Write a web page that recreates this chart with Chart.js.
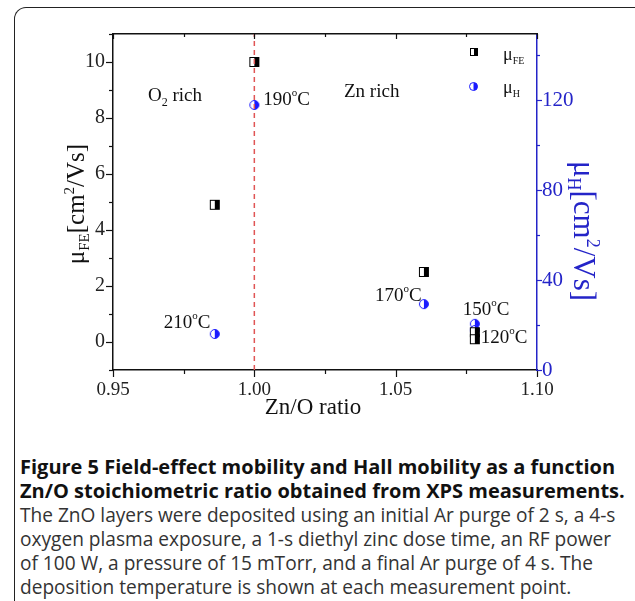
<!DOCTYPE html>
<html>
<head>
<meta charset="utf-8">
<script src="https://cdn.jsdelivr.net/npm/chart.js@4.4.1/dist/chart.umd.min.js"></script>
<style>
  body { margin: 0; background: #fff; width: 635px; height: 601px; overflow: hidden; position: relative; }
  #frame { position: absolute; left: 14px; top: 7px; width: 640px; height: 620px;
           border-left: 1.5px solid #222; border-top: 1.5px solid #222; border-right: 1.5px solid #222;
           border-top-left-radius: 12px; border-top-right-radius: 12px; }
  #wrap { position: absolute; left: 0; top: 0; width: 635px; height: 430px; }
  #caption { position: absolute; left: 20px; top: 455px; width: 615px; white-space: nowrap;
             font-family: "Open Sans", sans-serif; color: #333; font-size: 19.1px; line-height: 24px; }
  #caption b { color: #111; font-size: 20px; line-height: 24px; }
</style>
</head>
<body>
<div id="frame"></div>
<div id="wrap"><canvas id="myChart" width="635" height="430"></canvas></div>
<div id="caption"><b>Figure 5 Field-effect mobility and Hall mobility as a function<br>Zn/O stoichiometric ratio obtained from XPS measurements.</b><br>The ZnO layers were deposited using an initial Ar purge of 2 s, a 4-s<br>oxygen plasma exposure, a 1-s diethyl zinc dose time, an RF power<br>of 100 W, a pressure of 15 mTorr, and a final Ar purge of 4 s. The<br>deposition temperature is shown at each measurement point.</div>
<script>
// data
const ratio = [0.986, 1.000, 1.060, 1.078, 1.078];
const temps = ['210', '190', '170', '150', '120'];
const muFE = [4.9, 10.0, 2.5, 0.35, 0.1];
const muH = [16.0, 117.8, 29.3, 20.5, 17.8];
const xTicks = [0.95, 1.00, 1.05, 1.10];
const yTicks = [0, 2, 4, 6, 8, 10];
const y2Ticks = [0, 40, 80, 120];

const BLUE = '#2424c8';
const SERIF = '"Liberation Serif", "DejaVu Serif", serif';

function halfSquare(s) {
    var c = document.createElement('canvas');
    c.width = s + 2; c.height = s + 2;
    var g = c.getContext('2d');
    g.fillStyle = '#fff'; g.fillRect(1, 1, s, s);
    g.fillStyle = '#000'; g.fillRect(1 + s / 2, 1, s / 2, s);
    g.strokeStyle = '#000'; g.lineWidth = 1; g.strokeRect(1.5, 1.5, s - 1, s - 1);
    return c;
}
function halfCircle(s) {
    var c = document.createElement('canvas');
    c.width = s + 2; c.height = s + 2;
    var g = c.getContext('2d');
    var r = s / 2, cx = 1 + r, cy = 1 + r;
    g.fillStyle = '#fff'; g.beginPath(); g.arc(cx, cy, r - 0.5, 0, Math.PI * 2); g.fill();
    g.fillStyle = '#1a1aff'; g.beginPath(); g.arc(cx, cy, r - 0.5, -Math.PI / 2, Math.PI / 2); g.closePath(); g.fill();
    g.strokeStyle = '#1a1aff'; g.lineWidth = 1; g.beginPath(); g.arc(cx, cy, r - 0.5, 0, Math.PI * 2); g.stroke();
    return c;
}
const sq = halfSquare(10), ci = halfCircle(10);
const sqSmall = halfSquare(8), ciSmall = halfCircle(9);

// text with sub/superscripts: parts = [[text, size, dy]]
function richWidth(ctx, parts) {
    var w = 0;
    parts.forEach(p => { ctx.font = p[1] + 'px ' + SERIF; w += ctx.measureText(p[0]).width; });
    return w;
}
function drawRich(ctx, parts, x, y, color) {
    ctx.fillStyle = color || '#111';
    ctx.textBaseline = 'alphabetic';
    ctx.textAlign = 'left';
    parts.forEach(p => {
        ctx.font = p[1] + 'px ' + SERIF;
        ctx.fillText(p[0], x, y + (p[2] || 0));
        x += ctx.measureText(p[0]).width;
    });
}

const textPlugin = {
    id: 'texts',
    afterDraw(chart) {
        var ctx = chart.ctx, sx = chart.scales.x, sy = chart.scales.y, sy2 = chart.scales.y2;
        var a = chart.chartArea;
        ctx.save();
        // minor / major ticks
        ctx.strokeStyle = '#111'; ctx.lineWidth = 1.2;
        for (var v = 0.95; v <= 1.1001; v += 0.025) {
            var px = Math.round(sx.getPixelForValue(v)) + 0.5;
            var major = Math.abs(v * 20 - Math.round(v * 20)) < 1e-6;
            ctx.beginPath(); ctx.moveTo(px, a.bottom); ctx.lineTo(px, a.bottom + (major ? 7 : 4)); ctx.stroke();
            ctx.beginPath(); ctx.moveTo(px, a.top); ctx.lineTo(px, a.top + (major ? 5 : 3)); ctx.stroke();
        }
        for (var k = -1; k <= 11; k++) {
            var py = Math.round(sy.getPixelForValue(k)) + 0.5;
            ctx.beginPath(); ctx.moveTo(a.left, py); ctx.lineTo(a.left - (k % 2 === 0 ? 7 : 4), py); ctx.stroke();
        }
        ctx.strokeStyle = BLUE;
        for (var m = 0; m <= 140; m += 20) {
            var py2 = Math.round(sy2.getPixelForValue(m)) + 0.5;
            ctx.beginPath(); ctx.moveTo(a.right, py2); ctx.lineTo(a.right + (m % 40 === 0 ? 5 : 3), py2); ctx.stroke();
        }
        // axis titles
        var t1 = [['μ', 25], ['FE', 15, 5], ['[cm', 25], ['2', 15, -10], ['/Vs]', 25]];
        ctx.save(); ctx.translate(84, 204); ctx.rotate(-Math.PI / 2);
        drawRich(ctx, t1, -richWidth(ctx, t1) / 2, 0, '#111'); ctx.restore();
        var t2 = [['μ', 31], ['H', 18, 6], ['[cm', 31], ['2', 18, -13], ['/Vs]', 31]];
        ctx.save(); ctx.translate(574, 231); ctx.rotate(Math.PI / 2);
        drawRich(ctx, t2, -richWidth(ctx, t2) / 2, 0, BLUE); ctx.restore();
        var t3 = [['Zn/O ratio', 23]];
        drawRich(ctx, t3, (a.left + a.right) / 2 - richWidth(ctx, t3) / 2 - 12, 414, '#111');
        // region labels
        drawRich(ctx, [['O', 19], ['2', 12, 5], [' rich', 19]], 148, 101);
        drawRich(ctx, [['Zn rich', 19]], 344, 97);
        // temperature labels next to points
        var off = [[-51, -12], [9, -6], [-49, -9], [-12, -15], [6, -2]];
        var src = [muH, muH, muH, muH, muFE];
        for (var i = 0; i < ratio.length; i++) {
            var ax = sx.getPixelForValue(ratio[i]);
            var ay = (src[i] === muH ? sy2 : sy).getPixelForValue(src[i][i]);
            drawRich(ctx, [[temps[i], 19], ['o', 11, -9], ['C', 19]], ax + off[i][0], ay + off[i][1] + 6);
        }
        // legend
        ctx.drawImage(sqSmall, 469, 47);
        drawRich(ctx, [['μ', 18], ['FE', 10, 4]], 503, 60);
        ctx.drawImage(ciSmall, 468, 81);
        drawRich(ctx, [['μ', 18], ['H', 10, 4]], 503, 93);
        ctx.restore();
    }
};

var ctx = document.getElementById('myChart').getContext('2d');
var mychart = new Chart(ctx, {
    type: 'scatter',
    data: {
        datasets: [{
            label: 'ratio 1.00',
            data: [{x: 1.00, y: -1}, {x: 1.00, y: 11}],
            showLine: true,
            borderColor: '#e05555',
            borderWidth: 1.5,
            borderDash: [5, 4],
            pointRadius: 0,
            yAxisID: 'y'
        }, {
            label: 'μFE',
            data: ratio.map((r, i) => ({x: r, y: muFE[i]})),
            pointStyle: sq,
            yAxisID: 'y'
        }, {
            label: 'μH',
            data: ratio.map((r, i) => ({x: r, y: muH[i]})),
            pointStyle: ci,
            yAxisID: 'y2'
        }]
    },
    options: {
        responsive: false,
        animation: false,
        layout: { padding: { top: 34, left: 0, right: 0, bottom: 0 } },
        plugins: { legend: { display: false }, tooltip: { enabled: false } },
        scales: {
            x: {
                type: 'linear', min: 0.95, max: 1.10,
                afterBuildTicks: s => { s.ticks = xTicks.map(v => ({value: v})); },
                afterFit: s => { s.height = 60; },
                ticks: { color: '#222', font: { family: SERIF, size: 19 }, padding: 2,
                         callback: v => v.toFixed(2), maxRotation: 0 },
                grid: { drawOnChartArea: false, drawTicks: true, tickLength: 7, color: 'rgba(0,0,0,0)' },
                border: { color: '#111', width: 1.5 }
            },
            y: {
                position: 'left', min: -1, max: 11,
                afterBuildTicks: s => { s.ticks = yTicks.map(v => ({value: v})); },
                afterFit: s => { s.width = 113; },
                ticks: { color: '#222', font: { family: SERIF, size: 20 }, padding: 1 },
                grid: { drawOnChartArea: false, drawTicks: true, tickLength: 7, color: 'rgba(0,0,0,0)' },
                border: { color: '#111', width: 1.5 }
            },
            y2: {
                position: 'right', min: 0, max: 149.33,
                afterBuildTicks: s => { s.ticks = y2Ticks.map(v => ({value: v})); },
                afterFit: s => { s.width = 98; },
                ticks: { color: BLUE, font: { family: SERIF, size: 21 }, padding: 0 },
                grid: { drawOnChartArea: false, drawTicks: true, tickLength: 5, color: 'rgba(0,0,0,0)' },
                border: { color: BLUE, width: 1.5 }
            },
            x2: {
                type: 'linear', position: 'top', min: 0.95, max: 1.10,
                afterFit: s => { s.height = 0; },
                ticks: { display: false },
                grid: { drawOnChartArea: false, drawTicks: false },
                border: { color: '#111', width: 1.5 }
            }
        }
    },
    plugins: [textPlugin]
});
</script>
</body>
</html>
